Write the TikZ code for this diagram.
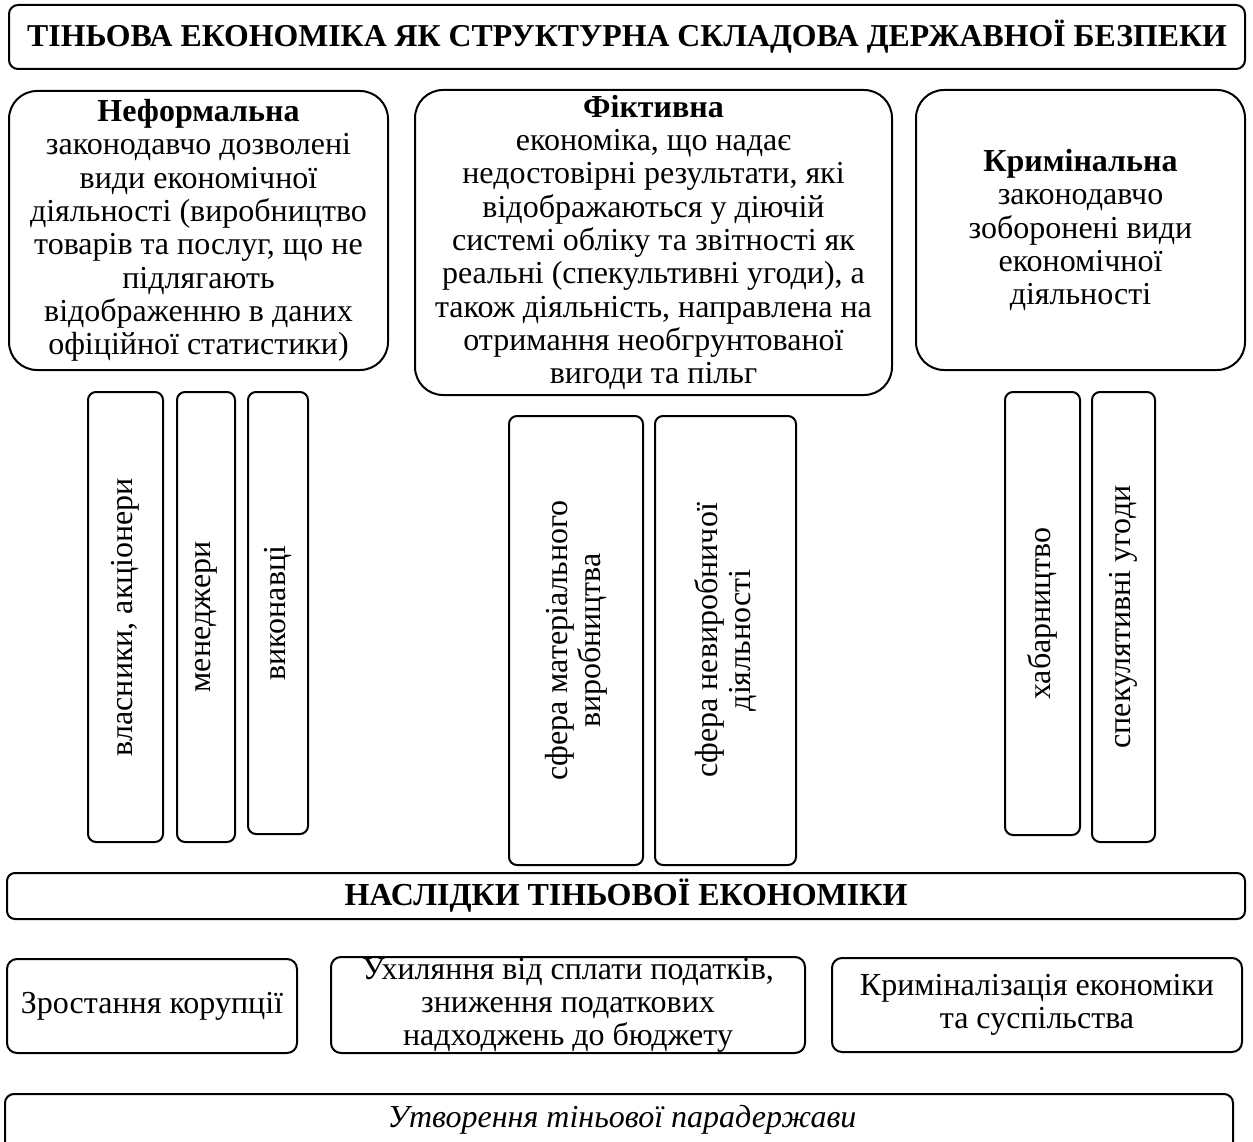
\documentclass[tikz,border=0pt]{standalone}
\usepackage{fontspec}
\setmainfont{Liberation Serif}
\begin{document}
\begin{tikzpicture}[x=1pt,y=-1pt,
  box/.style={draw,line width=2pt,rounded corners=#1,inner sep=0pt,align=center},
  box/.default=10pt,
  txt/.style={font=\fontsize{32}{33.3}\selectfont},
  vbox/.style={box=8pt,rotate=90,txt}
]
\useasboundingbox (0,0) rectangle (1253,1142);

% heading
\node[box=9pt,minimum width=1236pt,minimum height=64pt,font=\fontsize{31.8}{34}\selectfont\bfseries]
  (title) at (627,37) {ТІНЬОВА ЕКОНОМІКА ЯК СТРУКТУРНА СКЛАДОВА ДЕРЖАВНОЇ БЕЗПЕКИ};

% three kinds of shadow economy
\node[box=28pt,minimum width=379pt,minimum height=279pt,txt] (informal) at (198.5,230.5)
  {\textbf{Неформальна}\\законодавчо дозволені\\види економічної\\діяльності (виробництво\\товарів та послуг, що не\\підлягають\\відображенню в даних\\офіційної статистики)};
\node[box=28pt,minimum width=477pt,minimum height=305pt,txt] (fictive) at (653.5,242.5)
  {\textbf{Фіктивна}\\економіка, що надає\\недостовірні результати, які\\відображаються у діючій\\системі обліку та звітності як\\реальні (спекультивні угоди), а\\також діяльність, направлена на\\отримання необгрунтованої\\вигоди та пільг};
\node[box=28pt,minimum width=329pt,minimum height=280pt,txt] (criminal) at (1080.5,230)
  {\textbf{Кримінальна}\\законодавчо\\зоборонені види\\економічної\\діяльності};

% participants and spheres
\node[vbox,minimum width=450pt,minimum height=75pt] (owners) at (125.5,617) {власники, акціонери};
\node[vbox,minimum width=450pt,minimum height=58pt] (managers) at (206,617) {менеджери};
\node[vbox,minimum width=442pt,minimum height=60pt] (workers) at (278,613) {виконавці};
\node[vbox,minimum width=449pt,minimum height=134pt] (material) at (576,640.5) {сфера матеріального\\виробництва};
\node[vbox,minimum width=449pt,minimum height=141pt] (services) at (725.5,640.5) {сфера невиробничої\\діяльності};
\node[vbox,minimum width=443pt,minimum height=75pt] (bribery) at (1042.5,613.5) {хабарництво};
\node[vbox,minimum width=450pt,minimum height=63pt] (speculation) at (1123.5,617) {спекулятивні угоди};

% consequences
\node[box=8pt,minimum width=1238pt,minimum height=46pt,font=\fontsize{32}{34}\selectfont\bfseries]
  (effects) at (626,896) {НАСЛІДКИ ТІНЬОВОЇ ЕКОНОМІКИ};
\node[box=10pt,minimum width=290pt,minimum height=94pt,txt] (corruption) at (152,1006) {Зростання корупції};
\node[box=10pt,minimum width=474pt,minimum height=96pt,font=\fontsize{32}{33}\selectfont] (taxes) at (568,1005)
  {Ухиляння від сплати податків,\\зниження податкових\\надходжень до бюджету};
\node[box=10pt,minimum width=410pt,minimum height=94pt,txt] (crime) at (1037,1005)
  {Криміналізація економіки\\та суспільства};

% last box runs past the lower edge
\node[box=9pt,minimum width=1228pt,minimum height=70pt,anchor=north] (parastate) at (619,1093) {};
\node[font=\fontsize{32}{33.3}\selectfont\itshape] (parastatetext) at (622,1120) {Утворення тіньової парадержави};
\end{tikzpicture}
\end{document}
